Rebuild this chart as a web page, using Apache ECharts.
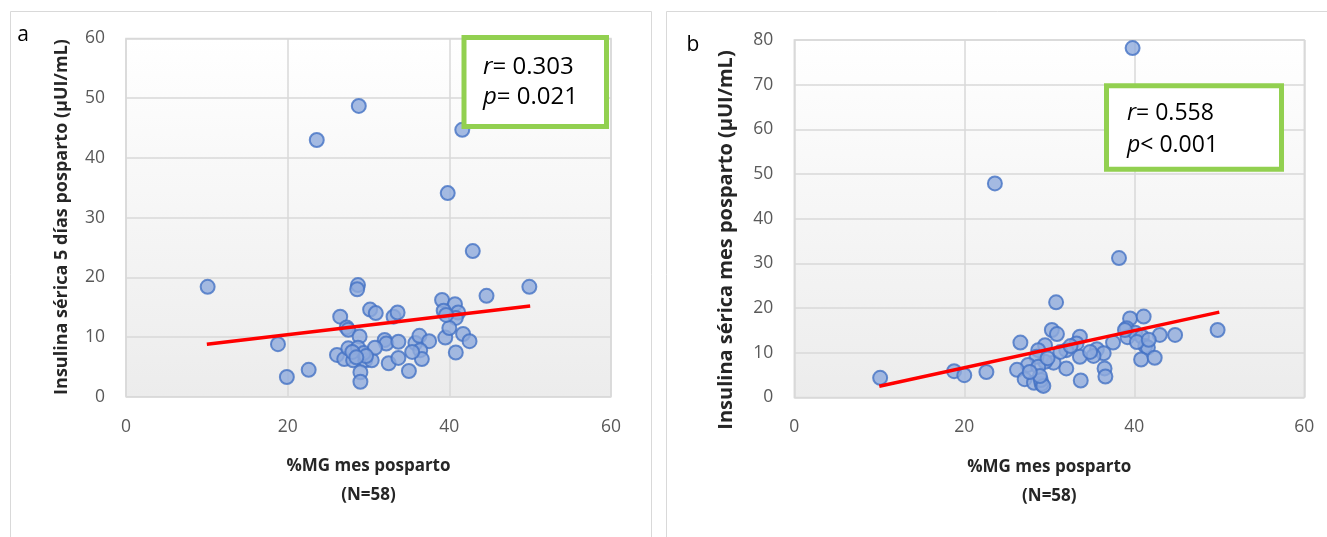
<!DOCTYPE html>
<html><head><meta charset="utf-8">
<script src="https://cdn.jsdelivr.net/npm/echarts@6/dist/echarts.min.js"></script>
<style>html,body{margin:0;padding:0;background:#fff}#c{width:1327px;height:537px}</style>
</head><body><div id="c"></div>
<script>
// ---- Data ----
const panelLabels = ['a', 'b'];
const xTitle = '%MG mes posparto';
const nLabel = '(N=58)';
const yTitleA = 'Insulina sérica 5 días posparto (µUI/mL)';
const yTitleB = 'Insulina sérica mes posparto (µUI/mL)';
const statsA = ['0.303', '0.021'];
const statsB = ['0.558', '0.001'];

// Panel a: %MG (x) vs insulin 5 days postpartum (y)
const aX = [10.1,18.8,19.9,22.6,23.6,28.8,41.6,39.8,42.9,44.6,49.9,
  28.7,28.6,26.5,30.2,30.9,33.1,33.6,39.1,40.7,39.3,41.1,40.8,27.3,27.5,28.9,32.0,32.2,33.7,35.8,36.3,37.5,39.5,40.0,41.7,42.5,40.8,
  26.1,27.0,27.5,28.7,28.1,29.6,30.4,29.4,30.8,32.5,33.7,35.0,36.4,36.6,29.0,29.0,28.0,29.7,39.6,35.4,28.5];
const aY = [18.4,8.8,3.3,4.5,43.0,48.7,44.7,34.1,24.4,16.9,18.4,
  18.7,18.0,13.4,14.6,14.0,13.4,14.1,16.2,15.5,14.4,14.1,13.2,11.6,11.2,10.1,9.5,8.9,9.2,9.0,10.2,9.3,9.9,11.5,10.5,9.3,7.4,
  7.0,6.3,8.1,8.2,6.1,6.1,6.1,7.3,8.2,5.6,6.5,4.3,7.8,6.3,4.1,2.5,7.5,6.8,13.7,7.5,6.6];
// Panel b: %MG (x) vs insulin one month postpartum (y)
const bX = [10.1,18.8,20.0,22.6,23.6,39.8,38.2,49.8,
  30.8,26.6,30.3,30.9,39.5,41.1,39.1,39.2,40.1,40.9,43.0,44.8,41.3,41.6,40.8,42.4,37.5,35.6,36.4,35.2,33.6,33.2,32.0,33.6,32.0,30.5,29.5,29.5,28.7,28.5,27.5,26.2,27.1,28.2,29.1,29.0,33.7,36.5,36.6,28.7,
  29.3,28.9,27.7,29.8,31.3,32.5,34.8,38.9,40.3,41.7];
const bY = [4.4,5.9,5.0,5.7,47.9,78.2,31.2,15.1,
  21.3,12.3,15.1,14.2,17.7,18.1,15.5,13.5,14.5,13.6,14.0,14.0,11.5,11.2,8.5,8.9,12.3,10.8,9.9,9.3,13.6,12.1,10.6,9.1,6.5,7.8,8.0,11.7,10.6,9.1,7.3,6.2,4.1,3.3,3.0,3.9,3.8,6.5,4.7,6.9,
  2.6,4.8,5.7,8.8,10.2,11.5,10.2,15.1,12.4,12.9];
// Trend lines (end points)
const trendAX = [10, 50], trendAY = [8.8, 15.2];
const trendBX = [10, 50], trendBY = [2.5, 19.1];
// Axis ranges / ticks
const xTicks = {min: 0, max: 60, step: 20};
const yTicksA = {min: 0, max: 60, step: 10};
const yTicksB = {min: 0, max: 80, step: 10};

// ---- Chart ----
const FONT = '"Open Sans", "Noto Sans", sans-serif';
const pairs = (xs, ys) => xs.map((x, i) => [x, ys[i]]);
const bg = {type: 'linear', x: 0, y: 0, x2: 0, y2: 1,
  colorStops: [{offset: 0, color: '#ffffff'}, {offset: 1, color: '#ececec'}]};
const gridStyle = {show: true, backgroundColor: bg, borderColor: '#d9d9d9', borderWidth: 1.5};

function xAxis(gi) {
  return {gridIndex: gi, type: 'value', min: xTicks.min, max: xTicks.max, interval: xTicks.step,
    axisLine: {show: false}, axisTick: {show: false},
    splitLine: {lineStyle: {color: '#d9d9d9', width: 1.5}},
    axisLabel: {color: '#595959', fontSize: 17.5, margin: 21, fontFamily: FONT},
    name: xTitle + '\n' + nLabel, nameLocation: 'middle', nameGap: 55,
    nameTextStyle: {fontWeight: 'bold', fontSize: 17, lineHeight: 29, color: '#262626', fontFamily: FONT}};
}
function yAxis(gi, t) {
  return {gridIndex: gi, type: 'value', min: t.min, max: t.max, interval: t.step,
    axisLine: {show: false}, axisTick: {show: false},
    splitLine: {lineStyle: {color: '#d9d9d9', width: 1.5}},
    axisLabel: {color: '#595959', fontSize: 17.5, margin: 21, fontFamily: FONT}};
}
const scatterStyle = {color: '#8FAADC', borderColor: '#4472C4', borderWidth: 2};
function scatter(gi, xs, ys) {
  return {type: 'scatter', xAxisIndex: gi, yAxisIndex: gi, data: pairs(xs, ys),
    symbolSize: 14, itemStyle: scatterStyle, z: 2, silent: true};
}
function trend(gi, xs, ys) {
  return {type: 'line', xAxisIndex: gi, yAxisIndex: gi, data: pairs(xs, ys), symbol: 'none',
    lineStyle: {color: '#FF0000', width: 3.5}, z: 3, silent: true};
}
function statText(x, y, letter, op, val, fs) {
  return {type: 'text', x: x, y: y, z: 20,
    style: {text: '{i|' + letter + '}' + op + ' ' + val, fontSize: fs, fontFamily: FONT, fill: '#000',
      verticalAlign: 'middle',
      rich: {i: {fontStyle: 'italic', fontSize: fs, fontFamily: FONT, fill: '#000'}}}};
}
function yTitle(x, y, txt, fs) {
  return {type: 'text', x: x, y: y, rotation: Math.PI / 2, z: 20,
    style: {text: txt, fontSize: fs, fontWeight: 'bold', fontFamily: FONT, fill: '#262626',
      align: 'center', verticalAlign: 'middle'}};
}

const chart = echarts.init(document.getElementById('c'), null, {renderer: 'canvas'});
chart.setOption({
  animation: false,
  backgroundColor: '#fff',
  grid: [
    Object.assign({left: 126, top: 38.5, width: 485, height: 358.2}, gridStyle),
    Object.assign({left: 794.3, top: 40, width: 510, height: 357.5}, gridStyle)
  ],
  xAxis: [xAxis(0), xAxis(1)],
  yAxis: [yAxis(0, yTicksA), yAxis(1, yTicksB)],
  series: [scatter(0, aX, aY), trend(0, trendAX, trendAY), scatter(1, bX, bY), trend(1, trendBX, trendBY)],
  graphic: [
    {type: 'rect', shape: {x: 10.5, y: 11.5, width: 641, height: 600}, style: {fill: 'none', stroke: '#d9d9d9', lineWidth: 1}, z: 0, silent: true},
    {type: 'rect', shape: {x: 666.5, y: 11.5, width: 700, height: 600}, style: {fill: 'none', stroke: '#d9d9d9', lineWidth: 1}, z: 0, silent: true},
    {type: 'text', x: 23, y: 35, z: 20, style: {text: panelLabels[0], fontSize: 21, fontFamily: FONT, fill: '#000', align: 'center', verticalAlign: 'middle'}},
    {type: 'text', x: 693, y: 45, z: 20, style: {text: panelLabels[1], fontSize: 21, fontFamily: FONT, fill: '#000', align: 'center', verticalAlign: 'middle'}},
    yTitle(62, 217, yTitleA, 18),
    yTitle(726, 240, yTitleB, 20),
    {type: 'rect', z: 10, shape: {x: 464, y: 37.5, width: 142.5, height: 89}, style: {fill: '#fff', stroke: '#92D050', lineWidth: 5}},
    statText(483, 67, 'r', '=', statsA[0], 24),
    statText(483, 97, 'p', '=', statsA[1], 24),
    {type: 'rect', z: 10, shape: {x: 1106.5, y: 85.8, width: 175, height: 83.4}, style: {fill: '#fff', stroke: '#92D050', lineWidth: 5}},
    statText(1127, 113, 'r', '=', statsB[0], 23),
    statText(1127, 145, 'p', '<', statsB[1], 23)
  ]
});
</script></body></html>
